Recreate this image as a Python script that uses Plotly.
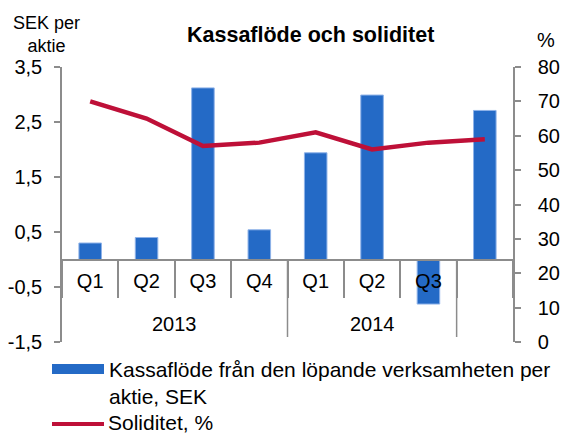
import plotly.graph_objects as go

years = ["2013", "2013", "2013", "2013", "2014", "2014", "2014", ""]
quarters = ["Q1", "Q2", "Q3", "Q4", "Q1", "Q2", "Q3", ""]
kassaflode = [0.30, 0.40, 3.12, 0.54, 1.94, 2.99, -0.81, 2.71]
soliditet = [70, 65, 57, 58, 61, 56, 58, 59]
bar_name = "Kassaflöde från den löpande verksamheten per<br>aktie, SEK"
line_name = "Soliditet, %"
left_ticks = [-1.5, -0.5, 0.5, 1.5, 2.5, 3.5]
right_ticks = [0, 10, 20, 30, 40, 50, 60, 70, 80]

BLUE = "#246AC6"
RED = "#BE1038"
GREY = "#8C8C8C"
FONT = "Liberation Sans"

# plot area in pixels
L, R, T, B = 62, 513, 67, 342
W, H = 563, 435
pw, ph = R - L, B - T
def px_x(x):
    return (x - L) / pw
def px_y(y):
    return (B - y) / ph

cats = [f"{i}:{y}{q}" for i, (y, q) in enumerate(zip(years, quarters))]

fig = go.Figure()
fig.add_trace(go.Bar(
    x=cats, y=kassaflode, name=bar_name,
    marker=dict(color=BLUE, line=dict(color="#8EB2E8", width=1)),
    width=0.4, showlegend=False, yaxis="y",
))
fig.add_trace(go.Scatter(
    x=cats, y=soliditet, name=line_name, mode="lines",
    line=dict(color=RED, width=4.5), showlegend=False, yaxis="y2",
))

fig.update_layout(
    width=W, height=H,
    margin=dict(l=L, r=W - R, t=T, b=H - B),
    paper_bgcolor="white", plot_bgcolor="white",
    font=dict(family=FONT, size=20, color="#000000"),
    showlegend=False,
    xaxis=dict(
        type="category", anchor="free", position=0.3, automargin=False,
        tickvals=cats, ticktext=quarters, tickson="boundaries",
        showline=True, linecolor=GREY, linewidth=1.5,
        ticks="outside", ticklen=38, tickcolor=GREY, tickwidth=1.5,
        showgrid=False, zeroline=False,
        tickfont=dict(size=20), ticklabelstandoff=4,
        layer="above traces", range=[-0.5, len(cats) - 0.5],
    ),
    yaxis=dict(
        range=[-1.5, 3.5], tickvals=left_ticks, automargin=False,
        ticktext=[f"{v:.1f}".replace(".", ",") for v in left_ticks],
        showline=True, linecolor=GREY, linewidth=1.5,
        ticks="outside", ticklen=6, tickcolor=GREY, tickwidth=1.5,
        showgrid=False, zeroline=False, tickfont=dict(size=20),
        ticklabelstandoff=8,
    ),
    yaxis2=dict(
        range=[0, 80], tickvals=right_ticks, overlaying="y", side="right",
        automargin=False,
        showline=True, linecolor=GREY, linewidth=1.5,
        ticks="outside", ticklen=6, tickcolor=GREY, tickwidth=1.5,
        showgrid=False, zeroline=False, tickfont=dict(size=20),
        ticklabelstandoff=13,
    ),
)

# year group labels and long dividers
groups = []
start = 0
for i in range(1, len(years) + 1):
    if i == len(years) or years[i] != years[start]:
        groups.append((years[start], start, i - 1))
        start = i
for name, i0, i1 in groups:
    if name:
        fig.add_annotation(text=name, xref="x", yref="paper", x=(i0 + i1) / 2,
                           y=px_y(324), showarrow=False, yanchor="middle",
                           font=dict(size=20))
    if i1 < len(years) - 1:
        fig.add_shape(type="line", xref="x", yref="paper",
                      x0=i1 + 0.5, x1=i1 + 0.5, y0=0.3, y1=px_y(337),
                      line=dict(color=GREY, width=1.5))

# title
fig.add_annotation(text="<b>Kassaflöde och soliditet</b>", xref="paper", yref="paper",
                   x=px_x(310), y=px_y(35), showarrow=False,
                   xanchor="center", yanchor="middle", font=dict(size=21.5))

# axis unit labels
fig.add_annotation(text="SEK per<br>aktie", xref="paper", yref="paper",
                   x=px_x(46), y=px_y(35), showarrow=False, xanchor="center",
                   yanchor="middle", font=dict(size=18), align="center")
fig.add_annotation(text="%", xref="paper", yref="paper",
                   x=px_x(546), y=px_y(40), showarrow=False,
                   xanchor="center", yanchor="middle", font=dict(size=20))

# legend (manual)
fig.add_shape(type="rect", xref="paper", yref="paper",
              x0=px_x(52), x1=px_x(104), y0=px_y(374), y1=px_y(364),
              fillcolor=BLUE, line=dict(width=0))
fig.add_annotation(text=bar_name, xref="paper", yref="paper",
                   x=px_x(107), y=px_y(356), xanchor="left", yanchor="top",
                   showarrow=False, align="left", font=dict(size=21))
fig.add_shape(type="line", xref="paper", yref="paper",
              x0=px_x(52), x1=px_x(104), y0=px_y(424), y1=px_y(424),
              line=dict(color=RED, width=4))
fig.add_annotation(text=line_name, xref="paper", yref="paper",
                   x=px_x(107), y=px_y(422), xanchor="left", yanchor="middle",
                   showarrow=False, align="left", font=dict(size=21),
                   borderpad=0)

fig.write_html("out.html", config={"displayModeBar": False},
               post_script="document.body.style.margin='0px';")
